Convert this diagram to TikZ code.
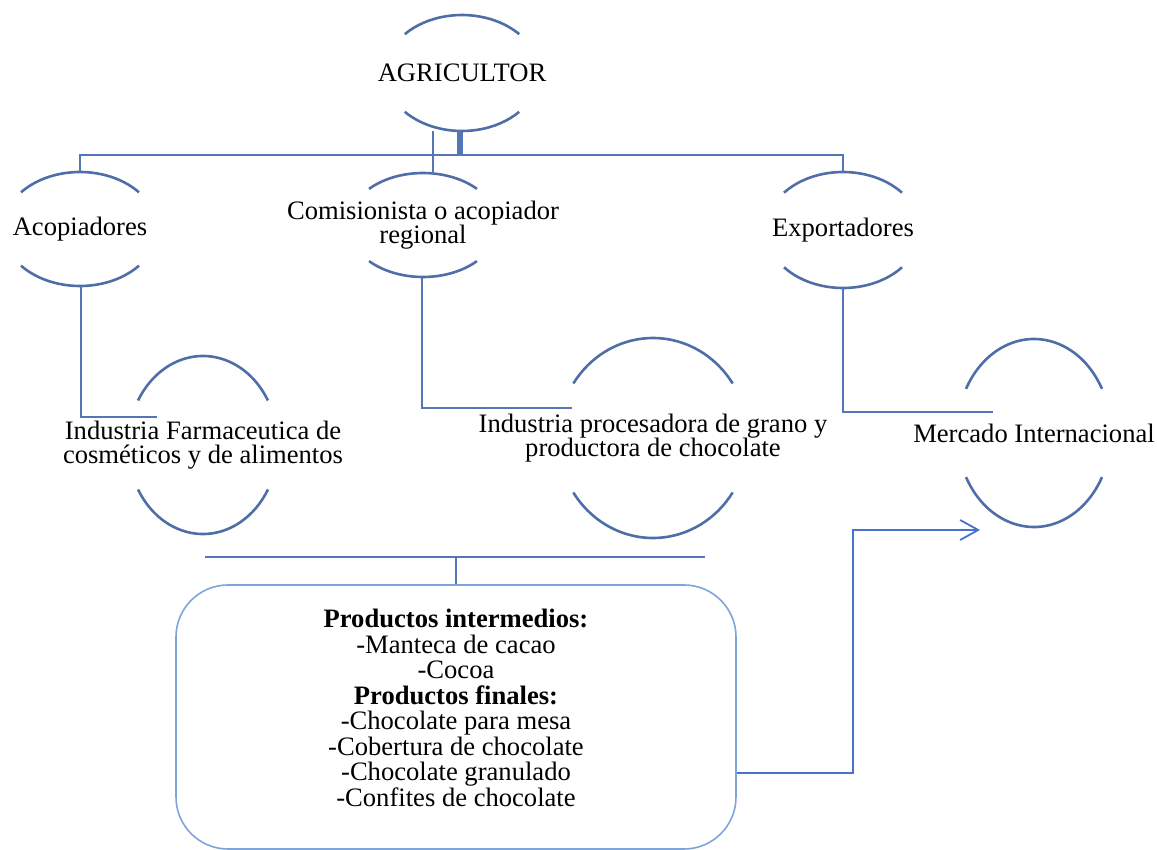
\documentclass[tikz,border=0pt]{standalone}
\usepackage{fontspec}
\setmainfont{Liberation Serif}
\usetikzlibrary{arrows.meta}
\definecolor{ringblue}{RGB}{79,110,168}
\definecolor{lineblue}{RGB}{84,118,184}
\definecolor{boxblue}{RGB}{125,165,218}
\definecolor{arrowblue}{RGB}{70,114,206}

\begin{document}
\begin{tikzpicture}[x=0.5pt,y=0.5pt,
    ring/.style={draw=ringblue, line width=1.3pt},
    link/.style={draw=lineblue, line width=1.1pt},
    flow/.style={draw=arrowblue, line width=0.9pt, -{Straight Barb[length=9pt,width=10pt]}},
    lbl/.style={font=\fontsize{13.3}{12.2}\selectfont, align=center, inner sep=0pt},
    prodbox/.style={draw=boxblue, line width=0.8pt, rounded corners=26pt, minimum width=280pt, minimum height=132pt},
    prodtext/.style={font=\fontsize{13.3}{12.75}\selectfont, align=center, inner sep=0pt}
    ]
    \useasboundingbox (0,0) rectangle (1157,-850);

    \node [lbl] (agri) at (462,-73) {AGRICULTOR};
    \node [lbl] (acop) at (80,-229) {Acopiadores};
    \node [lbl] (comis) at (423,-225) {Comisionista o acopiador\\regional};
    \node [lbl] (expo) at (843,-230) {Exportadores};

    \node [lbl] (farma) at (203,-445) {Industria Farmaceutica de\\cosméticos y de alimentos};
    \node [lbl] (proc) at (653,-438) {Industria procesadora de grano y\\productora de chocolate};
    \node [lbl] (merc) at (1034,-433) {Mercado Internacional};

    \node [prodbox] (prod) at (456,-717) {};
    \node [prodtext] (prodtxt) at (456,-708) {\textbf{Productos intermedios:}\\-Manteca de cacao\\-Cocoa\\\textbf{Productos finales:}\\-Chocolate para mesa\\-Cobertura de chocolate\\-Chocolate granulado\\-Confites de chocolate};

    % half rings round the labels
    \draw[ring] ([shift={(42:77 and 58)}]agri.center) arc[start angle=42, end angle=138, x radius=77, y radius=58];
    \draw[ring] ([shift={(222:77 and 58)}]agri.center) arc[start angle=222, end angle=318, x radius=77, y radius=58];
    \draw[ring] ([shift={(40:77 and 57)}]acop.center) arc[start angle=40, end angle=140, x radius=77, y radius=57];
    \draw[ring] ([shift={(220:77 and 57)}]acop.center) arc[start angle=220, end angle=320, x radius=77, y radius=57];
    \draw[ring] ([shift={(44:75 and 52)}]comis.center) arc[start angle=44, end angle=136, x radius=75, y radius=52];
    \draw[ring] ([shift={(224:75 and 52)}]comis.center) arc[start angle=224, end angle=316, x radius=75, y radius=52];
    \draw[ring] ([shift={(40:77 and 58)}]expo.center) arc[start angle=40, end angle=140, x radius=77, y radius=58];
    \draw[ring] ([shift={(220:77 and 58)}]expo.center) arc[start angle=220, end angle=320, x radius=77, y radius=58];
    \draw[ring] ([shift={(30:75 and 89)}]farma.center) arc[start angle=30, end angle=150, x radius=75, y radius=89];
    \draw[ring] ([shift={(210:75 and 89)}]farma.center) arc[start angle=210, end angle=330, x radius=75, y radius=89];
    \draw[ring] ([shift={(33:95 and 100)}]proc.center) arc[start angle=33, end angle=147, x radius=95, y radius=100];
    \draw[ring] ([shift={(213:95 and 100)}]proc.center) arc[start angle=213, end angle=327, x radius=95, y radius=100];
    \draw[ring] ([shift={(28:77 and 94)}]merc.center) arc[start angle=28, end angle=152, x radius=77, y radius=94];
    \draw[ring] ([shift={(208:77 and 94)}]merc.center) arc[start angle=208, end angle=332, x radius=77, y radius=94];

    % ends of the connectors
    \coordinate (agri-s) at (460,-131);
    \coordinate (hub) at (460,-155);
    \coordinate (acop-n) at (80,-173);
    \coordinate (acop-s) at (81,-287);
    \coordinate (comis-n) at (433,-174);
    \coordinate (comis-s) at (422,-278);
    \coordinate (expo-n) at (843,-172);
    \coordinate (expo-s) at (843,-288);
    \coordinate (farma-in) at (157,-417);
    \coordinate (proc-in) at (572,-408);
    \coordinate (merc-in) at (993,-412);
    \coordinate (merc-end) at (980,-530);
    \coordinate (join-l) at (205,-557);
    \coordinate (join-r) at (705,-557);

    \draw[link] (acop-n) |- (hub) -| (expo-n);
    \draw[link, line width=2.6pt] (hub) -- (agri-s);
    \draw[link] (comis-n |- agri-s) -- (comis-n);
    \draw[link] (acop-s) |- (farma-in);
    \draw[link] (comis-s) |- (proc-in);
    \draw[link] (expo-s) |- (merc-in);
    \draw[link] (join-l) -- (join-r);
    \draw[link] (prod.north) -- (prod.north |- join-l);
    \draw[flow] ([yshift=-28pt]prod.east) -- ++(116,0) |- (merc-end);
\end{tikzpicture}
\end{document}
